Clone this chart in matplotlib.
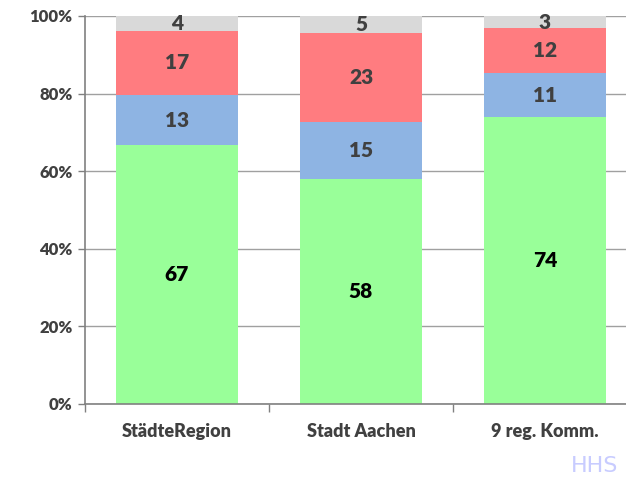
import matplotlib.pyplot as plt
import numpy as np

categories = ["StädteRegion", "Stadt Aachen", "9 reg. Komm."]
green_vals = [66.7, 58.0, 73.9]
blue_vals = [12.9, 14.6, 11.3]
red_vals = [16.6, 23.0, 11.6]
grey_vals = [3.9, 4.6, 3.2]
green_labels = ["67", "58", "74"]
blue_labels = ["13", "15", "11"]
red_labels = ["17", "23", "12"]
grey_labels = ["4", "5", "3"]

plt.rcParams['font.family'] = ['Lato', 'DejaVu Sans']
WT = 'heavy'

fig = plt.figure(figsize=(6.26, 4.8), dpi=100)
ax = fig.add_axes([85/626, 76/480, 552/626, 388/480])

x = np.arange(len(categories))
w = 0.66
series = [
    (green_vals, green_labels, "#99FF99", "black"),
    (blue_vals, blue_labels, "#8EB4E3", "#404040"),
    (red_vals, red_labels, "#FF7C80", "#404040"),
    (grey_vals, grey_labels, "#D9D9D9", "#404040"),
]
bottom = np.zeros(len(categories))
for vals, labels, color, tcolor in series:
    vals = np.array(vals)
    ax.bar(x, vals, w, bottom=bottom, color=color, zorder=2)
    for xi, b, v, lab in zip(x, bottom, vals, labels):
        top = min(b + v, 100)
        ax.text(xi, (b + top) / 2, lab, ha='center', va='center',
                fontsize=15, fontweight=WT, color=tcolor, zorder=3)
    bottom = bottom + vals

ax.set_xlim(-0.5, 2.5)
ax.set_ylim(0, 100)
ax.set_yticks(range(0, 101, 20))
ax.set_yticklabels([f"{v}%" for v in range(0, 101, 20)],
                   fontsize=12, fontweight=WT, color='#404040')
ax.yaxis.grid(True, color='#A0A0A0', lw=1, zorder=0)
ax.set_xticks(x)
ax.set_xticklabels(categories, fontsize=13, fontweight=WT, color='#404040')
ax.set_xticks([-0.5, 0.5, 1.5, 2.5], minor=True)
ax.tick_params(axis='x', which='major', length=0, pad=14)
ax.tick_params(axis='x', which='minor', length=6, color='#808080', width=1)
ax.tick_params(axis='y', length=5, color='#808080', width=1, pad=4)
for s in ['top', 'right']:
    ax.spines[s].set_visible(False)
for s in ['left', 'bottom']:
    ax.spines[s].set_color('#808080')
    ax.spines[s].set_linewidth(1.2)

fig.text(571/626, 14/480, "HHS", fontsize=16, color='#C8CCFF',
         family='DejaVu Sans', ha='left', va='center')

plt.savefig("out.png", dpi=100)
